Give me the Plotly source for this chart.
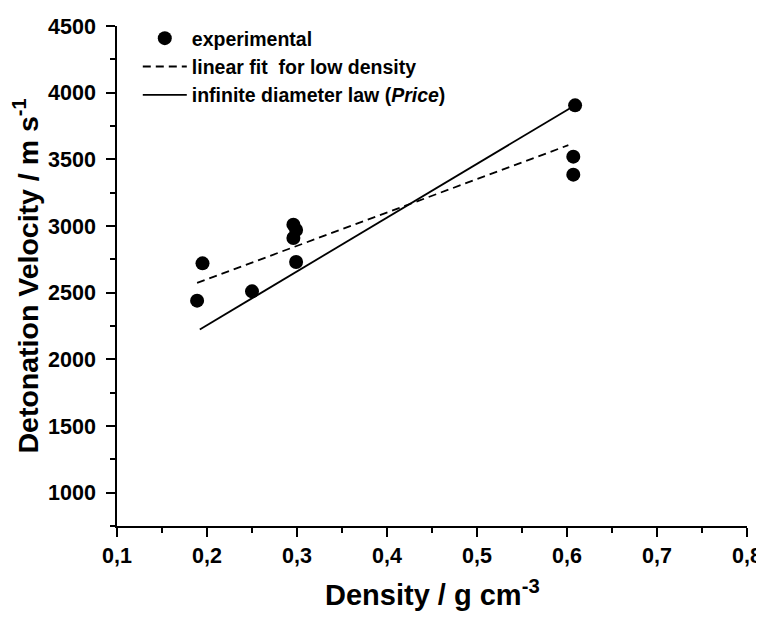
import plotly.graph_objects as go

# experimental detonation velocities
density = [0.189, 0.195, 0.25, 0.296, 0.299, 0.296, 0.299, 0.609, 0.607, 0.607]
velocity = [2440, 2720, 2510, 3010, 2970, 2910, 2730, 3905, 3520, 3385]

# linear fit for low density
fit_x = [0.189, 0.6015]
fit_y = [2573, 3606]

# infinite diameter law (Price)
price_x = [0.192, 0.609]
price_y = [2224, 3906]

FONT = "Liberation Sans, Arial, sans-serif"

fig = go.Figure()

fig.add_trace(go.Scatter(
    x=density, y=velocity, mode='markers', name='<b>experimental</b>',
    marker=dict(color='black', size=14),
))
fig.add_trace(go.Scatter(
    x=fit_x, y=fit_y, mode='lines', name='<b>linear fit  for low density</b>',
    line=dict(color='black', width=1.8, dash='8px,5px'),
))
fig.add_trace(go.Scatter(
    x=price_x, y=price_y, mode='lines',
    name='<b>infinite diameter law (<i>Price</i>)</b>',
    line=dict(color='black', width=1.8),
))

axis_common = dict(
    showline=True, linecolor='black', linewidth=1.5, mirror=False,
    showgrid=False, zeroline=False, automargin=False,
    ticks='outside', ticklen=9, tickwidth=1.5, tickcolor='black',
    ticklabeloverflow='allow',
    tickfont=dict(family=FONT, size=21.5, color='black', weight='bold'),
)

# the page body adds an 8px offset, so margins are shifted by 8px
fig.update_layout(
    width=756, height=611,
    margin=dict(l=109, r=17, t=17, b=93),
    paper_bgcolor='white', plot_bgcolor='white',
    separators=',.',
    font=dict(family=FONT, color='black'),
    xaxis=dict(
        range=[0.1, 0.8], dtick=0.1, tick0=0.1, tickformat='.1f',
        minor=dict(ticks='outside', dtick=0.05, ticklen=5, tickwidth=1.5,
                   tickcolor='black'),
        **axis_common,
    ),
    yaxis=dict(
        range=[750, 4500], dtick=500, tick0=1000,
        minor=dict(ticks='outside', dtick=250, ticklen=5, tickwidth=1.5,
                   tickcolor='black'),
        ticklabelstandoff=6,
        title=dict(text='<b>Detonation Velocity / m s<sup>-1</sup></b>',
                   font=dict(family=FONT, size=28.5), standoff=8),
        **axis_common,
    ),
    annotations=[dict(
        text='<b>Density / g cm<sup>-3</sup></b>',
        xref='paper', yref='paper', x=0.5, y=-0.093,
        xanchor='center', yanchor='top', showarrow=False,
        font=dict(family=FONT, size=29, color='black'),
    )],
    legend=dict(
        x=0.033, y=1.012, xanchor='left', yanchor='top',
        bgcolor='rgba(0,0,0,0)',
        font=dict(family=FONT, size=19.5, color='black'),
        tracegroupgap=0, itemwidth=44,
    ),
    showlegend=True,
)

fig.write_html("out.html")
